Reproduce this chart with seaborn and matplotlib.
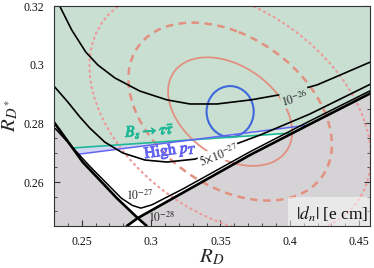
import numpy as np
import matplotlib
matplotlib.use("Agg")
import matplotlib.pyplot as plt
import matplotlib.patheffects as pe
from matplotlib.patches import Ellipse
import seaborn as sns

# ---------------- data ----------------
x_range = [0.23, 0.4575]
y_range = [0.245, 0.32]
x_ticks = [0.25, 0.30, 0.35, 0.40, 0.45]
x_tick_labels = ["0.25", "0.3", "0.35", "0.4", "0.45"]
y_ticks = [0.26, 0.28, 0.30, 0.32]
y_tick_labels = ["0.26", "0.28", "0.3", "0.32"]

# |d_n| contours
c26_x = [0.2341, 0.2428, 0.2529, 0.2616, 0.2738, 0.2919, 0.3114, 0.3280, 0.3475, 0.3720, 0.3958, 0.4197, 0.4601]
c26_y = [0.3200, 0.3118, 0.3043, 0.2999, 0.2955, 0.2910, 0.2880, 0.2866, 0.2866, 0.2880, 0.2900, 0.2931, 0.3013]
c5e27_x = [0.2305, 0.2399, 0.2486, 0.2558, 0.2666, 0.2796, 0.2955, 0.3114, 0.3316, 0.3496, 0.3785, 0.4146, 0.4601]
c5e27_y = [0.2924, 0.2873, 0.2822, 0.2784, 0.2736, 0.2699, 0.2675, 0.2668, 0.2678, 0.2709, 0.2760, 0.2832, 0.2938]
c27_x = [0.2310, 0.2555, 0.2785, 0.2866, 0.2926, 0.3005, 0.3236, 0.3713, 0.4132, 0.4601]
c27_y = [0.2782, 0.2655, 0.2545, 0.2520, 0.2511, 0.2522, 0.2578, 0.2703, 0.2805, 0.2916]
# 1e-28 contour = boundary of the grey (excluded) region, an X shape
bL_x = [0.2298, 0.2507, 0.2753, 0.2904, 0.2969]
bL_y = [0.2805, 0.2668, 0.2545, 0.2477, 0.2450]
bR_x = [0.2825, 0.2904, 0.3713, 0.4132, 0.4601]
bR_y = [0.2450, 0.2477, 0.2692, 0.2794, 0.2907]

# B_s -> tau tau and high-pT bounds
bs_x = [0.2435, 0.4016]
bs_y = [0.2716, 0.2767]
pt_x = [0.2464, 0.4132]
pt_y = [0.2694, 0.2794]
cross_bs_pt = (0.3291, 0.2744)

# measurements (ellipses)
meas_center = (0.357, 0.284)
meas_sigma = (0.0295, 0.0122)
meas_rho = -0.37
meas_dchi2 = [2.30, 6.18, 11.83]
meas_styles = ["-", "--", ":"]
proj_center = (0.357, 0.284)
proj_halfwidths = (0.0170, 0.0087)

# ---------------- styling ----------------
sns.set_theme(style="ticks")
plt.rcParams["font.family"] = ["Liberation Serif", "DejaVu Serif"]
plt.rcParams["mathtext.fontset"] = "stix"

GREY = "#D6D3D6"
GREEN = "#C8DFD2"
LBLUE = "#D3D8F2"
LGREEN = "#D9EEDF"
TEAL = "#1FB896"
BLUE_PT = "#6464F2"
SALMON = "#E29080"
SALMON_DOT = "#EE9A9A"
BLUE_E = "#3F69DA"

fig = plt.figure(figsize=(3.74, 2.68), dpi=100)
ax = fig.add_axes([0.1444, 0.1567, 0.8436, 0.8209])
ax.set_xlim(x_range)
ax.set_ylim(y_range)
ax.set_facecolor(GREY)

top = y_range[1] + 0.01
xl, xr = bL_x[0] - 0.005, bR_x[-1] + 0.005

# white allowed V region (above the X) and small lower triangle
vx = [xl, bL_x[0]] + bL_x[1:4] + bR_x[2:] + [xr, xr, xl]
vy = [bL_y[0], bL_y[0]] + bL_y[1:4] + bR_y[2:] + [bR_y[-1], top, top]
ax.fill(vx, vy, color="white", lw=0, zorder=1)
ax.fill([bR_x[0], bL_x[3], bL_x[4]], [bR_y[0], bL_y[3], bL_y[4]], color="white", lw=0, zorder=1)

# green (both constraints satisfied)
gx = [xl, bL_x[0], bs_x[0], cross_bs_pt[0], pt_x[1], bR_x[-1], xr, xr, xl]
gy = [bL_y[0], bL_y[0], bs_y[0], cross_bs_pt[1], pt_y[1], bR_y[-1], bR_y[-1], top, top]
ax.fill(gx, gy, color=GREEN, lw=0, zorder=2)
# strips where only one constraint holds
ax.fill([bs_x[0], cross_bs_pt[0], pt_x[0]], [bs_y[0], cross_bs_pt[1], pt_y[0]], color=LBLUE, lw=0, zorder=2)
ax.fill([cross_bs_pt[0], pt_x[1], bs_x[1]], [cross_bs_pt[1], pt_y[1], bs_y[1]], color=LGREEN, lw=0, zorder=2)

# ellipses
sx, sy = meas_sigma
cov = np.array([[sx**2, meas_rho*sx*sy], [meas_rho*sx*sy, sy**2]])
vals, vecs = np.linalg.eigh(cov)
ang = np.degrees(np.arctan2(vecs[1, 1], vecs[0, 1]))
for d, ls in zip(meas_dchi2, meas_styles):
    w = 2*np.sqrt(d*vals[1]); h = 2*np.sqrt(d*vals[0])
    if ls == ":":
        e = Ellipse(meas_center, w, h, angle=ang, fill=False, ec=SALMON_DOT, lw=1.6,
                    ls=(0, (0.5, 2.0)), capstyle="round", zorder=3)
    elif ls == "--":
        e = Ellipse(meas_center, w, h, angle=ang, fill=False, ec=SALMON, lw=1.8,
                    ls=(0, (3, 2.2)), zorder=3)
    else:
        e = Ellipse(meas_center, w, h, angle=ang, fill=False, ec=SALMON, lw=1.3, zorder=3)
    ax.add_patch(e)
ax.add_patch(Ellipse(proj_center, 2*proj_halfwidths[0], 2*proj_halfwidths[1], fill=False,
                     ec=BLUE_E, lw=1.5, zorder=4))

# constraint lines
sns.lineplot(x=bs_x, y=bs_y, color=TEAL, lw=1.2, sort=False, estimator=None, ax=ax, zorder=5)
sns.lineplot(x=pt_x, y=pt_y, color=BLUE_PT, lw=1.1, sort=False, estimator=None, ax=ax, zorder=5)

# contours
for cx, cy, lw in [(c26_x, c26_y, 1.2), (c5e27_x, c5e27_y, 1.2), (c27_x, c27_y, 1.1),
                   (bL_x, bL_y, 1.9), (bR_x, bR_y, 1.9)]:
    sns.lineplot(x=cx, y=cy, color="black", lw=lw, sort=False, estimator=None, ax=ax, zorder=6)

lab = dict(fontsize=8.5, color="#222222", ha="center", va="center", zorder=7)
ax.text(0.4038, 0.2887, r"$10^{-26}$", rotation=15,
        bbox=dict(boxstyle="square,pad=0.05", fc=GREEN, ec="none"), **lab)
ax.text(0.3489, 0.2693, r"$5{\times}10^{-27}$", rotation=21,
        bbox=dict(boxstyle="square,pad=0.05", fc="white", ec="none"), **lab)
ax.text(0.2919, 0.2552, r"$10^{-27}$", **lab)
ax.text(0.3078, 0.2479, r"$10^{-28}$", **lab)

ax.text(0.2991, 0.2773, r"$B_s \rightarrow \tau\bar{\tau}$", color=TEAL,
        fontsize=11.5, rotation=4, ha="center", va="center", zorder=7,
        path_effects=[pe.withStroke(linewidth=0.7, foreground=TEAL)])
ax.text(0.3140, 0.2707, r"$\mathrm{High}\ p_T$", color=BLUE_PT, fontsize=11.5,
        rotation=8, ha="center", va="center", zorder=7,
        path_effects=[pe.withStroke(linewidth=0.7, foreground=BLUE_PT)])

ax.text(0.995, 0.008, r"$|d_n|$ [e cm]", transform=ax.transAxes, ha="right", va="bottom",
        fontsize=12.5, color="#111111", zorder=8,
        bbox=dict(boxstyle="square,pad=0.45", fc="white", ec="none", alpha=0.5))

# axes
ax.set_xticks(x_ticks)
ax.set_xticklabels(x_tick_labels)
ax.set_yticks(y_ticks)
ax.set_yticklabels(y_tick_labels)
ax.xaxis.set_minor_locator(matplotlib.ticker.MultipleLocator(0.01))
ax.yaxis.set_minor_locator(matplotlib.ticker.MultipleLocator(0.005))
ax.tick_params(which="both", direction="in", top=True, right=True, labelsize=8.5,
               colors="#333333", labelcolor="#111111")
ax.tick_params(which="major", length=4, width=0.8, pad=7)
ax.tick_params(which="minor", length=2, width=0.6)
for s in ax.spines.values():
    s.set_color("#333333"); s.set_linewidth(0.8); s.set_zorder(9)
ax.set_xlabel(r"$R_D$", fontsize=15, labelpad=0)
ax.set_ylabel(r"$R_{D^*}$", fontsize=15, labelpad=2)

fig.savefig("out.png", dpi=100)
